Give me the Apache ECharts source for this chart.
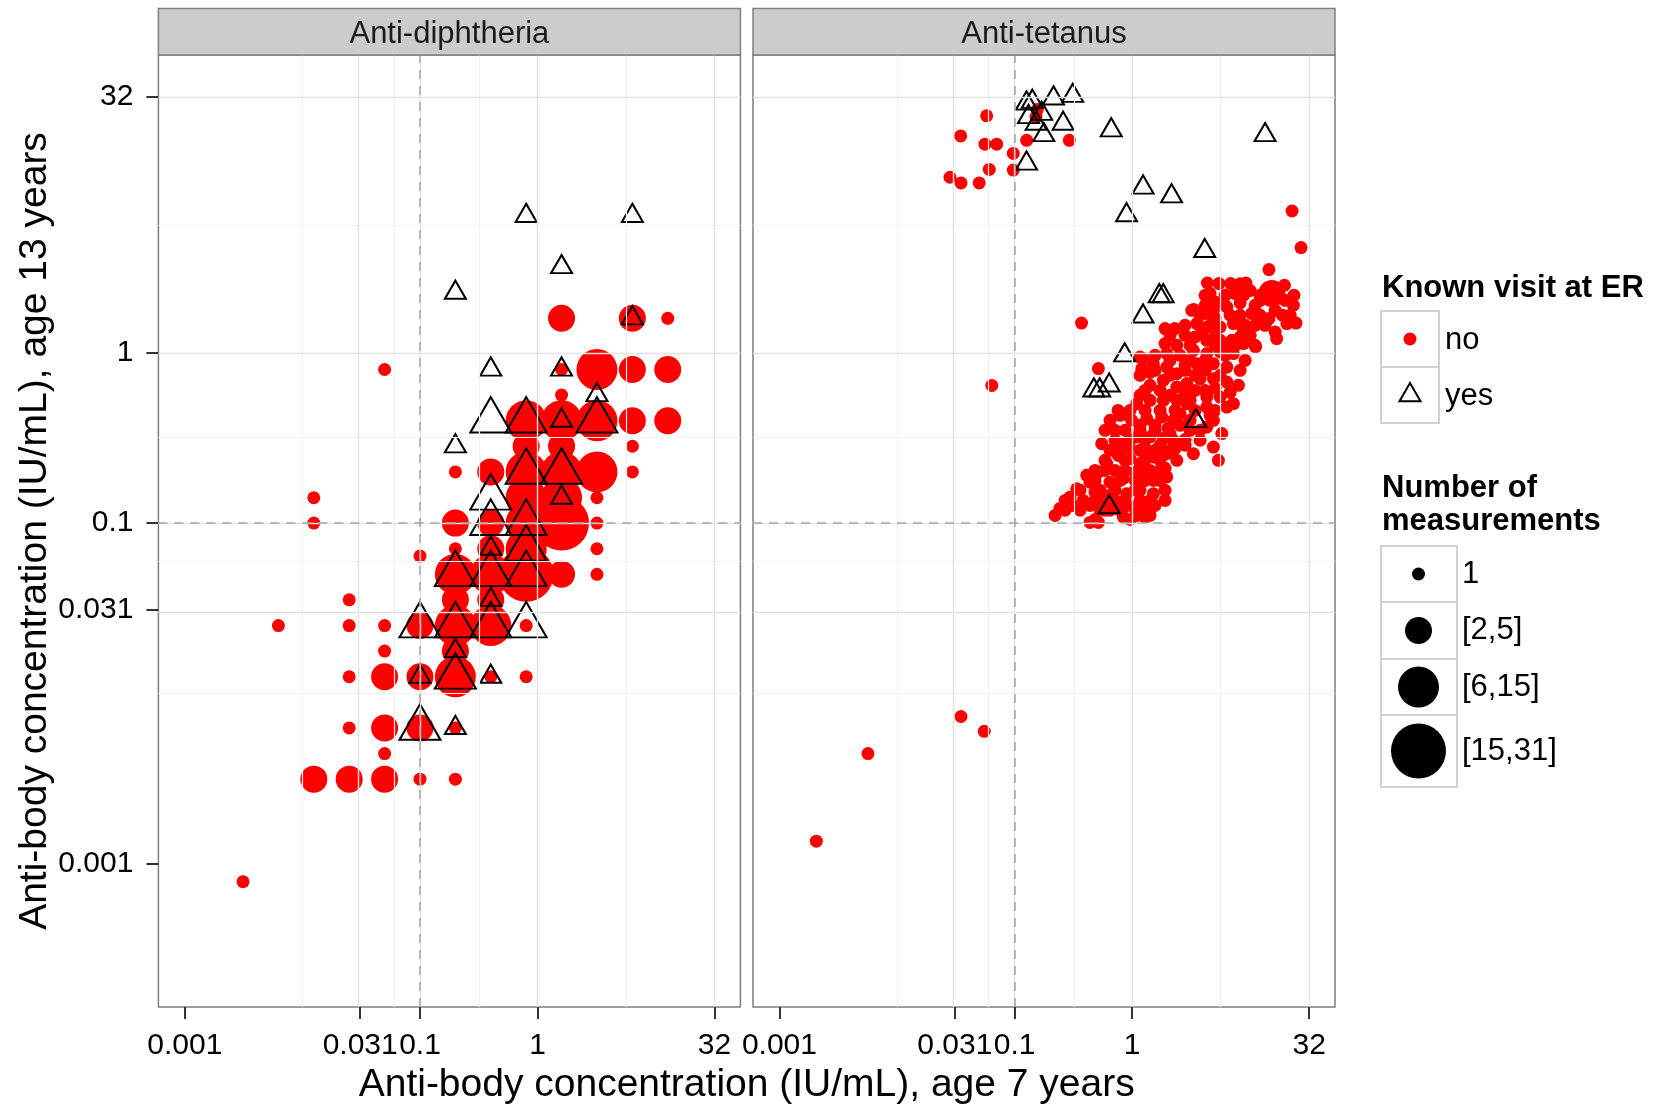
<!DOCTYPE html>
<html>
<head>
<meta charset="utf-8">
<title>Anti-body concentration at age 7 and age 13</title>
<script src="https://cdn.jsdelivr.net/npm/echarts@6/dist/echarts.min.js"></script>
<style>
  html, body { margin: 0; padding: 0; background: #fff; }
  #chart { width: 1656px; height: 1105px; }
</style>
</head>
<body>
<div id="chart"></div>
<script>
// ---- data ----
// axis breaks (IU/mL), shared by both axes of both panels
const tickValues = [0.001, 0.031, 0.1, 1, 32];
const tickLabels = ['0.001', '0.031', '0.1', '1', '32'];
const xMinor = [0.00557, 0.0557, 0.316, 5.66];
const yMinor = [0.00018, 0.00557, 0.0557, 0.316, 5.66];
const cutoff = 0.1;

const panelNames = ['Anti-diphtheria', 'Anti-tetanus'];
const erLabels = ['no', 'yes'];
const sizeLabels = ['1', '[2,5]', '[6,15]', '[15,31]'];

// [age 7, age 13, size class (index in sizeLabels)]
const diphNo = [
  [1.6, 1.6, 1], [6.4, 1.6, 1], [12.8, 1.6, 0],
  [0.05, 0.8, 0], [1.6, 0.8, 0], [3.2, 0.8, 2], [6.4, 0.8, 1], [12.8, 0.8, 1],
  [1.6, 0.566, 0],
  [0.8, 0.4, 2], [1.6, 0.4, 2], [3.2, 0.4, 2], [6.4, 0.4, 1], [12.8, 0.4, 1],
  [0.8, 0.283, 1], [1.6, 0.283, 1], [6.4, 0.283, 0],
  [0.2, 0.2, 0], [0.4, 0.2, 1], [0.8, 0.2, 2], [1.6, 0.2, 2], [3.2, 0.2, 2], [6.4, 0.2, 0],
  [0.0125, 0.141, 0], [0.8, 0.141, 2], [1.6, 0.141, 2], [3.2, 0.141, 0],
  [0.0125, 0.1, 0], [0.2, 0.1, 1], [0.4, 0.1, 1], [0.8, 0.1, 2], [1.6, 0.1, 3], [3.2, 0.1, 0],
  [0.1, 0.064, 0],
  [0.2, 0.0707, 0], [0.4, 0.0707, 1], [0.8, 0.0707, 2], [3.2, 0.0707, 0],
  [0.2, 0.05, 2], [0.4, 0.05, 2], [0.8, 0.05, 3], [1.6, 0.05, 1], [3.2, 0.05, 0],
  [0.025, 0.0354, 0], [0.2, 0.0354, 1], [0.4, 0.0354, 1],
  [0.00625, 0.025, 0], [0.025, 0.025, 0], [0.05, 0.025, 0], [0.1, 0.025, 1], [0.2, 0.025, 2], [0.4, 0.025, 2], [0.8, 0.025, 0],
  [0.05, 0.0177, 0], [0.2, 0.0177, 1],
  [0.025, 0.0125, 0], [0.05, 0.0125, 1], [0.1, 0.0125, 1], [0.2, 0.0125, 2], [0.4, 0.0125, 0], [0.8, 0.0125, 0],
  [0.025, 0.00625, 0], [0.05, 0.00625, 1], [0.1, 0.00625, 1], [0.2, 0.00625, 0],
  [0.05, 0.00442, 0],
  [0.0125, 0.003125, 1], [0.025, 0.003125, 1], [0.05, 0.003125, 1], [0.1, 0.003125, 0], [0.2, 0.003125, 0],
  [0.003125, 0.00078, 0]
];
const diphYes = [
  [0.8, 6.4, 0], [6.4, 6.4, 0], [1.6, 3.2, 0], [0.2, 2.263, 0], [6.4, 1.6, 0],
  [0.4, 0.8, 0], [1.6, 0.8, 0], [3.2, 0.566, 0],
  [0.4, 0.4, 1], [0.8, 0.4, 1], [1.6, 0.4, 0], [3.2, 0.4, 1],
  [0.2, 0.283, 0],
  [0.8, 0.2, 1], [1.6, 0.2, 1],
  [0.4, 0.141, 1], [1.6, 0.141, 0],
  [0.4, 0.1, 1], [0.8, 0.1, 1],
  [0.4, 0.0707, 0], [0.8, 0.0707, 1],
  [0.2, 0.05, 1], [0.4, 0.05, 1], [0.8, 0.05, 1],
  [0.4, 0.0354, 0],
  [0.1, 0.025, 1], [0.2, 0.025, 1], [0.4, 0.025, 1], [0.8, 0.025, 1],
  [0.2, 0.0177, 0],
  [0.1, 0.0125, 0], [0.2, 0.0125, 1], [0.4, 0.0125, 0],
  [0.1, 0.00625, 1], [0.2, 0.00625, 0]
];
const tetNo = [
  [0.0579, 24.8, 0], [0.0348, 18.9, 0], [0.056, 16.9, 0], [0.0704, 16.9, 0], [0.0975, 14.9, 0],
  [0.0975, 11.9, 0], [0.0609, 12.0, 0], [0.0282, 10.8, 0], [0.035, 10.0, 0], [0.05, 10.0, 0],
  [0.1267, 17.8, 0], [0.292, 17.8, 0], [0.156, 27.0, 0], [0.152, 24.4, 0],
  [0.064, 0.645, 0], [0.371, 1.50, 0], [0.516, 0.81, 0],
  [0.035, 0.0073, 0], [0.0552, 0.00597, 0], [0.00566, 0.00442, 0], [0.00206, 0.00135, 0],
  [22.9, 6.84, 0], [27.3, 4.17, 0],
  [14.57, 3.095, 0], [4.365, 2.58, 0], [5.469, 2.56, 0], [6.866, 2.56, 0], [9.283, 2.58, 0],
  [15.42, 2.236, 1], [19.71, 2.502, 0], [23.78, 2.185, 0], [3.35, 1.80, 0], [5.076, 1.995, 0],
  [8.286, 1.97, 0], [10.38, 1.705, 0], [14.57, 1.594, 0], [18.98, 1.667, 0], [24.73, 1.50, 0],
  [16.94, 1.215, 0], [1.905, 1.392, 0], [2.30, 1.392, 0], [3.897, 1.30, 0], [6.127, 1.085, 0],
  [8.286, 1.242, 0], [11.2, 1.085, 0], [8.286, 2.55, 0], [23.54, 1.909, 0], [4.603, 2.236, 0],
  [7.513, 2.236, 0], [8.84, 2.185, 0], [3.216, 1.783, 0], [3.784, 1.667, 0], [4.91, 1.783, 0],
  [6.386, 1.865, 0], [20.69, 1.489, 0], [16.45, 1.329, 0],
  [3.547, 1.489, 0], [4.314, 1.422, 0], [5.599, 1.422, 0], [7.267, 1.489, 0], [8.84, 1.36, 0], [11.12, 1.11, 0],
  [1.905, 1.136, 0], [2.397, 1.11, 0], [1.97, 0.992, 0],
  [3.43, 1.242, 0], [4.314, 1.188, 0], [5.599, 1.188, 0], [7.043, 1.188, 0], [8.84, 1.136, 0],
  [3.318, 1.037, 0], [4.314, 0.992, 0], [5.599, 1.014, 0], [7.267, 0.992, 0], [9.14, 0.906, 0],
  [1.167, 0.947, 0], [1.207, 0.809, 0], [1.515, 0.866, 0], [1.97, 0.827, 0], [2.397, 0.756, 0],
  [3.547, 0.866, 0], [4.91, 0.866, 0], [6.386, 0.827, 0], [8.286, 0.791, 0],
  [1.42, 0.646, 0], [1.843, 0.691, 0], [2.397, 0.631, 0], [2.915, 0.661, 0], [3.784, 0.707, 0],
  [4.91, 0.707, 0], [6.386, 0.675, 0], [8.014, 0.646, 0],
  [1.094, 0.504, 0], [1.42, 0.527, 0], [1.843, 0.527, 0], [2.397, 0.527, 0], [3.111, 0.527, 0],
  [4.314, 0.551, 0], [5.599, 0.551, 0], [7.267, 0.504, 0],
  [2.915, 0.504, 0], [4.314, 0.481, 0], [6.386, 0.481, 0],
  [0.992, 0.402, 0], [1.331, 0.411, 0], [1.786, 0.42, 0], [2.242, 0.402, 0], [2.557, 0.44, 0],
  [4.314, 0.367, 0], [4.91, 0.402, 0], [5.789, 0.336, 0], [4.91, 0.28, 0], [5.415, 0.234, 0], [3.318, 0.256, 0],
  [0.588, 0.351, 0], [0.551, 0.293, 0], [0.87, 0.351, 0], [0.842, 0.293, 0], [1.094, 0.321, 0],
  [1.42, 0.321, 0], [1.843, 0.314, 0], [2.242, 0.307, 0],
  [0.763, 0.25, 0], [0.96, 0.239, 0], [1.167, 0.224, 0], [1.515, 0.245, 0], [1.97, 0.256, 0], [2.397, 0.234, 0],
  [0.608, 0.224, 0], [0.516, 0.1995, 0], [0.411, 0.191, 0],
  [0.648, 0.174, 0], [0.842, 0.183, 0], [1.515, 0.178, 0], [1.97, 0.187, 0],
  [0.338, 0.159, 0], [0.296, 0.142, 0], [0.243, 0.122, 0], [0.221, 0.111, 0], [0.316, 0.127, 0],
  [0.384, 0.136, 0], [0.483, 0.152, 0],
  [0.438, 0.101, 0], [0.516, 0.101, 0],
  [0.899, 0.149, 0], [1.167, 0.156, 0], [1.515, 0.149, 0], [1.905, 0.156, 0], [1.905, 0.136, 0],
  [0.842, 0.124, 0], [1.024, 0.124, 0], [1.331, 0.124, 0], [0.842, 0.1085, 0], [1.094, 0.111, 0], [1.42, 0.111, 0],
  [0.715, 0.136, 0],
  [0.648, 0.402, 0], [0.759, 0.46, 0], [0.923, 0.43, 0], [1.167, 0.376, 0], [1.566, 0.376, 0],
  [2.021, 0.361, 0], [2.557, 0.376, 0], [3.111, 0.402, 0],
  [0.648, 0.268, 0], [0.96, 0.275, 0], [1.288, 0.275, 0], [1.727, 0.287, 0], [2.318, 0.275, 0],
  [0.715, 0.204, 0], [1.058, 0.199, 0], [1.42, 0.204, 0], [1.905, 0.21, 0],
  [0.648, 0.119, 0], [1.167, 0.136, 0], [1.566, 0.127, 0], [0.648, 0.146, 0], [0.533, 0.119, 0],
  [2.82, 0.564, 0], [3.43, 0.603, 0], [5.076, 0.62, 0], [6.813, 0.587, 0],
  [2.557, 0.969, 0], [2.82, 0.846, 0], [5.076, 1.6, 0], [6.813, 1.667, 0], [11.12, 1.455, 0],
  [12.26, 2.042, 0], [10.08, 2.33, 0],
  [3.111, 0.351, 0], [3.784, 0.307, 0], [2.82, 0.287, 0],
  [0.36, 0.156, 0], [0.438, 0.174, 0], [0.269, 0.136, 0], [0.438, 0.127, 0],
  [1.238, 0.926, 0], [1.42, 0.768, 0],
  // denser core of the cloud
  [4.173, 2.185, 0], [6.176, 2.185, 0], [12.26, 2.185, 0],
  [4.173, 1.909, 0], [6.176, 1.909, 0], [11.12, 1.909, 0],
  [4.603, 1.667, 0], [8.286, 1.667, 0], [12.26, 1.667, 0], [22.08, 1.667, 0],
  [2.82, 1.455, 0], [5.077, 1.455, 0], [9.14, 1.455, 0], [13.52, 1.455, 0],
  [2.102, 1.271, 0], [2.82, 1.271, 0], [5.077, 1.271, 0], [10.08, 1.271, 0],
  [3.11, 1.11, 0], [5.077, 1.11, 0], [7.513, 1.11, 0],
  [1.566, 0.969, 0], [6.176, 0.969, 0], [4.173, 0.906, 0], [2.102, 0.906, 0], [3.11, 0.906, 0],
  [1.566, 0.791, 0], [2.82, 0.791, 0], [4.173, 0.791, 0],
  [1.167, 0.739, 0], [2.102, 0.739, 0], [3.431, 0.739, 0], [5.599, 0.739, 0],
  [1.288, 0.603, 0], [1.728, 0.603, 0], [4.173, 0.603, 0],
  [1.167, 0.564, 0], [2.102, 0.564, 0],
  [0.96, 0.46, 0], [1.288, 0.46, 0], [1.728, 0.46, 0], [2.318, 0.46, 0], [3.431, 0.46, 0], [5.077, 0.46, 0],
  [0.789, 0.43, 0], [4.603, 0.43, 0],
  [0.715, 0.351, 0], [1.167, 0.351, 0], [1.566, 0.351, 0], [2.102, 0.335, 0], [3.784, 0.351, 0],
  [0.715, 0.307, 0], [0.96, 0.307, 0], [1.288, 0.307, 0], [2.82, 0.31, 0],
  [0.789, 0.268, 0], [1.167, 0.268, 0], [1.566, 0.268, 0], [2.102, 0.268, 0],
  [0.588, 0.234, 0], [0.87, 0.234, 0], [1.288, 0.234, 0], [1.728, 0.234, 0],
  [0.483, 0.204, 0], [0.588, 0.204, 0], [0.87, 0.204, 0], [1.167, 0.204, 0], [1.728, 0.204, 0],
  [0.483, 0.178, 0], [0.789, 0.178, 0], [1.0585, 0.178, 0], [1.288, 0.178, 0], [1.728, 0.178, 0],
  [0.533, 0.156, 0], [0.715, 0.156, 0], [1.0585, 0.156, 0],
  [0.483, 0.136, 0], [0.588, 0.136, 0], [0.87, 0.136, 0], [1.42, 0.136, 0],
  [0.2685, 0.119, 0], [0.36, 0.119, 0], [0.588, 0.119, 0], [0.789, 0.119, 0], [1.288, 0.119, 0],
  [0.483, 0.105, 0], [0.96, 0.105, 0], [1.288, 0.108, 0],
  [20.01, 2.042, 0], [16.45, 1.78, 0]
];
const tetYes = [
  [0.1263, 29.3, 0], [0.1415, 30.0, 0], [0.2143, 31.4, 0], [0.312, 32.5, 0], [0.1313, 24.4, 0],
  [0.17, 25.5, 0], [0.1527, 22.3, 0], [0.1772, 19.1, 0], [0.2587, 22.3, 0], [0.1263, 13.0, 0],
  [0.664, 20.4, 0], [13.5, 19.1, 0], [1.238, 9.4, 0], [2.164, 8.35, 0], [0.896, 6.46, 0],
  [4.14, 3.98, 0], [1.70, 2.16, 0], [1.835, 2.16, 0], [1.238, 1.64, 0], [0.863, 0.969, 0],
  [0.472, 0.603, 0], [0.529, 0.603, 0], [0.638, 0.645, 0], [3.48, 0.398, 0], [0.638, 0.124, 0]
];

// ---- styling ----
const FONT = '"Liberation Sans", Arial, Helvetica, sans-serif';
const RED = '#ff0000';
const circleSize = [13, 27, 41, 55];
const triWidth = [21, 41];
const grids = [
  { left: 158.4, top: 55, width: 582, height: 952 },
  { left: 753, top: 55, width: 582, height: 952 }
];
const xRange = [0.000596, 53.1];
const yRange = [0.000143, 56.5];

function tickText(v) {
  const i = tickValues.indexOf(v);
  return i >= 0 ? tickLabels[i] : String(v);
}

function triangleItems(rows) {
  return rows.map(function (r) {
    const w = triWidth[r[2]];
    const h = w * 0.866;
    return { value: r, symbolSize: [w, h], symbolOffset: [0, -h / 6] };
  });
}

function gridLines(i) {
  const minorStyle = { color: '#f2f2f2', width: 1.2, type: 'solid' };
  const majorStyle = { color: '#e3e3e3', width: 1.4, type: 'solid' };
  const cutStyle = { color: '#a8a8a8', width: 1.6, type: [9, 7] };
  const lines = [];
  xMinor.forEach(v => lines.push({ xAxis: v, lineStyle: minorStyle }));
  yMinor.forEach(v => lines.push({ yAxis: v, lineStyle: minorStyle }));
  tickValues.forEach(v => lines.push({ xAxis: v, lineStyle: majorStyle }));
  tickValues.forEach(v => lines.push({ yAxis: v, lineStyle: majorStyle }));
  lines.push({ xAxis: cutoff, lineStyle: cutStyle });
  lines.push({ yAxis: cutoff, lineStyle: cutStyle });
  return {
    type: 'scatter', xAxisIndex: i, yAxisIndex: i, data: [], z: 1, silent: true,
    markLine: { silent: true, symbol: ['none', 'none'], label: { show: false },
      emphasis: { disabled: true }, animation: false, data: lines }
  };
}

function xAxisFor(i) {
  return {
    type: 'log', gridIndex: i, min: xRange[0], max: xRange[1],
    axisLine: { show: false },
    axisTick: { show: true, customValues: tickValues, length: 12, lineStyle: { color: '#333', width: 2 } },
    axisLabel: { customValues: tickValues, formatter: tickText, margin: 24,
      fontSize: 30, fontFamily: FONT, color: '#000' },
    splitLine: { show: false }, minorTick: { show: false }, minorSplitLine: { show: false }
  };
}

function yAxisFor(i) {
  return {
    type: 'log', gridIndex: i, min: yRange[0], max: yRange[1],
    axisLine: { show: false },
    axisTick: { show: i === 0, customValues: tickValues, length: 12, lineStyle: { color: '#333', width: 2 } },
    axisLabel: { show: i === 0, customValues: tickValues, formatter: tickText, margin: 25,
      fontSize: 30, fontFamily: FONT, color: '#000' },
    splitLine: { show: false }, minorTick: { show: false }, minorSplitLine: { show: false }
  };
}

function pointSeries(i, noRows, yesRows) {
  return [
    {
      name: erLabels[0], type: 'scatter', xAxisIndex: i, yAxisIndex: i, z: 2,
      data: noRows, symbol: 'circle',
      symbolSize: v => circleSize[v[2]],
      itemStyle: { color: RED, opacity: 1 },
      emphasis: { disabled: true }
    },
    {
      name: erLabels[1], type: 'scatter', xAxisIndex: i, yAxisIndex: i, z: 3,
      data: triangleItems(yesRows), symbol: 'triangle',
      itemStyle: { color: 'rgba(0,0,0,0)', borderColor: '#000', borderWidth: 2, opacity: 1 },
      emphasis: { disabled: true }
    }
  ];
}

// ---- strips, titles and legend ----
const graphics = [];
grids.forEach(function (g, i) {
  graphics.push({
    type: 'rect', z: 10,
    shape: { x: g.left, y: 8.4, width: g.width, height: 46.6 },
    style: { fill: '#cccccc', stroke: '#7f7f7f', lineWidth: 1.5 }
  });
  graphics.push({
    type: 'text', z: 11, x: g.left + g.width / 2, y: 34,
    style: { text: panelNames[i], fontSize: 31, fontFamily: FONT, fill: '#1a1a1a',
      textAlign: 'center', textVerticalAlign: 'middle' }
  });
});
graphics.push({
  type: 'text', x: 746.7, y: 1085,
  style: { text: 'Anti-body concentration (IU/mL), age 7 years', fontSize: 39, fontFamily: FONT,
    fill: '#000', textAlign: 'center', textVerticalAlign: 'middle' }
});
graphics.push({
  type: 'text', x: 35, y: 531, rotation: Math.PI / 2,
  style: { text: 'Anti-body concentration (IU/mL), age 13 years', fontSize: 39, fontFamily: FONT,
    fill: '#000', textAlign: 'center', textVerticalAlign: 'middle' }
});

// legend: visit at ER
const boxStroke = '#d2d2d2';
graphics.push({
  type: 'text', x: 1382, y: 288,
  style: { text: 'Known visit at ER', fontSize: 31, fontWeight: 'bold', fontFamily: FONT,
    fill: '#000', textAlign: 'left', textVerticalAlign: 'middle' }
});
[311, 367].forEach(function (top, j) {
  graphics.push({ type: 'rect', shape: { x: 1381, y: top, width: 58, height: 56 },
    style: { fill: '#fff', stroke: boxStroke, lineWidth: 2 } });
  graphics.push({ type: 'text', x: 1445, y: top + 29,
    style: { text: erLabels[j], fontSize: 31, fontFamily: FONT, fill: '#000',
      textAlign: 'left', textVerticalAlign: 'middle' } });
});
graphics.push({ type: 'circle', shape: { cx: 1410, cy: 339, r: 6.5 }, style: { fill: RED } });
graphics.push({ type: 'polygon', shape: { points: [[1410, 383], [1420.5, 401.2], [1399.5, 401.2]] },
  style: { fill: 'none', stroke: '#000', lineWidth: 2 } });

// legend: number of measurements
graphics.push({
  type: 'text', x: 1382, y: 505,
  style: { text: 'Number of\nmeasurements', fontSize: 31, fontWeight: 'bold', fontFamily: FONT,
    lineHeight: 33, fill: '#000', textAlign: 'left', textVerticalAlign: 'middle' }
});
const sizeBoxes = [[546, 56], [602, 57], [659, 56], [715, 72]];
sizeBoxes.forEach(function (b, j) {
  const cy = b[0] + b[1] / 2;
  graphics.push({ type: 'rect', shape: { x: 1381, y: b[0], width: 76, height: b[1] },
    style: { fill: '#fff', stroke: boxStroke, lineWidth: 2 } });
  graphics.push({ type: 'circle', shape: { cx: 1418.5, cy: cy, r: circleSize[j] / 2 },
    style: { fill: '#000' } });
  graphics.push({ type: 'text', x: 1462, y: cy,
    style: { text: sizeLabels[j], fontSize: 31, fontFamily: FONT, fill: '#000',
      textAlign: 'left', textVerticalAlign: 'middle' } });
});

const chart = echarts.init(document.getElementById('chart'), null, { renderer: 'canvas' });
chart.setOption({
  backgroundColor: '#fff',
  animation: false,
  textStyle: { fontFamily: FONT },
  grid: grids.map(g => Object.assign({
    show: true, backgroundColor: '#fff', borderColor: '#7f7f7f', borderWidth: 1.5,
    containLabel: false, outerBoundsMode: 'none'
  }, g)),
  xAxis: [xAxisFor(0), xAxisFor(1)],
  yAxis: [yAxisFor(0), yAxisFor(1)],
  series: [
    gridLines(0), gridLines(1),
    ...pointSeries(0, diphNo, diphYes),
    ...pointSeries(1, tetNo, tetYes)
  ],
  graphic: { elements: graphics }
});
</script>
</body>
</html>
